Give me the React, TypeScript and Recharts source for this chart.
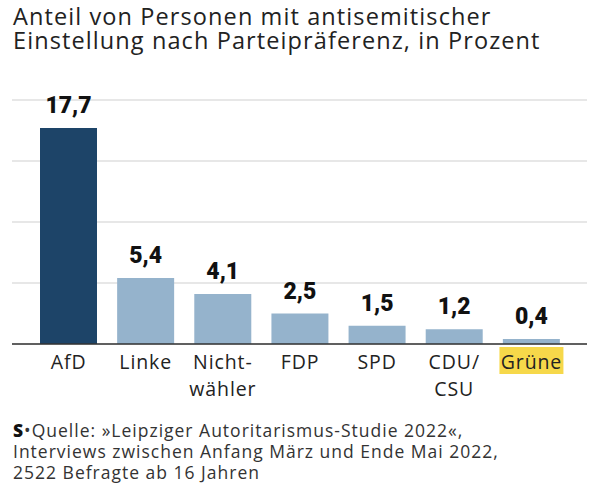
import React from 'react'
import { BarChart, Bar, XAxis, YAxis, CartesianGrid, Cell, LabelList } from 'recharts'

// Anteil antisemitisch eingestellter Personen je Parteipräferenz (Prozent)
const categories = ['AfD', 'Linke', 'Nicht-\nwähler', 'FDP', 'SPD', 'CDU/\nCSU', 'Grüne']
const values = [17.7, 5.4, 4.1, 2.5, 1.5, 1.2, 0.4]
const gridTicks = [0, 5, 10, 15]

const FONT = '"Open Sans", Roboto, sans-serif'
const NUM_FONT = 'Roboto, "Noto Sans", sans-serif'
const DARK = '#1d4468'
const LIGHT = '#95b3cc'

const data = categories.map((name, i) => ({ name, value: values[i] }))

const formatValue = (v: number) => v.toFixed(1).replace('.', ',')

// category labels, with line breaks and the yellow marker for "Grüne"
const CategoryTick = (props: any) => {
  const { x, y, payload } = props
  const lines: string[] = String(payload.value).split('\n')
  const highlight = payload.value === 'Grüne'
  return (
    <g transform={`translate(${x},${y})`}>
      {highlight && <rect x={-32} y={-5} width={64} height={27} fill="#f6d84a" />}
      {lines.map((line, i) => (
        <text
          key={i}
          x={0}
          y={17 + i * 27}
          textAnchor="middle"
          fontFamily={FONT}
          fontSize={19.5}
          letterSpacing={0.9}
          fill="#222"
        >
          {line}
        </text>
      ))}
    </g>
  )
}

export default function App() {
  return (
    <div style={{ position: 'absolute', left: 0, top: 0, width: 597, height: 498, background: '#fff', fontFamily: FONT }}>
      <div style={{ position: 'absolute', left: 13, top: 4, fontSize: 23.5, lineHeight: '24px', letterSpacing: 1.1, color: '#222', whiteSpace: 'nowrap' }}>
        Anteil von Personen mit antisemitischer
        <br />
        Einstellung nach Parteipräferenz, in Prozent
      </div>

      <BarChart
        width={597}
        height={498}
        data={data}
        margin={{ top: 100, right: 10, left: 12, bottom: 124 }}
      >
        <CartesianGrid vertical={false} stroke="#cfcfcf" strokeWidth={1} />
        <YAxis hide domain={[0, 20]} ticks={gridTicks} />
        <XAxis
          dataKey="name"
          interval={0}
          padding={{ left: 18, right: 17 }}
          axisLine={{ stroke: '#333', strokeWidth: 1.5 }}
          tickLine={false}
          tick={<CategoryTick />}
        />
        <Bar dataKey="value" barSize={57} isAnimationActive={false}>
          {data.map((d, i) => (
            <Cell key={d.name} fill={i === 0 ? DARK : LIGHT} />
          ))}
          <LabelList
            dataKey="value"
            position="top"
            offset={15}
            formatter={(v: any) => formatValue(Number(v))}
            style={{ fontFamily: NUM_FONT, fontSize: 23, fontWeight: 900, fill: '#111' }}
          />
        </Bar>
      </BarChart>

      <div style={{ position: 'absolute', left: 13, top: 420, fontSize: 17.5, lineHeight: '21px', letterSpacing: 1, color: '#333', whiteSpace: 'nowrap' }}>
        <span style={{ fontWeight: 800, color: '#111' }}>S</span>
        {'•Quelle: »Leipziger Autoritarismus-Studie 2022«,'}
        <br />
        Interviews zwischen Anfang März und Ende Mai 2022,
        <br />
        2522 Befragte ab 16 Jahren
      </div>
    </div>
  )
}
